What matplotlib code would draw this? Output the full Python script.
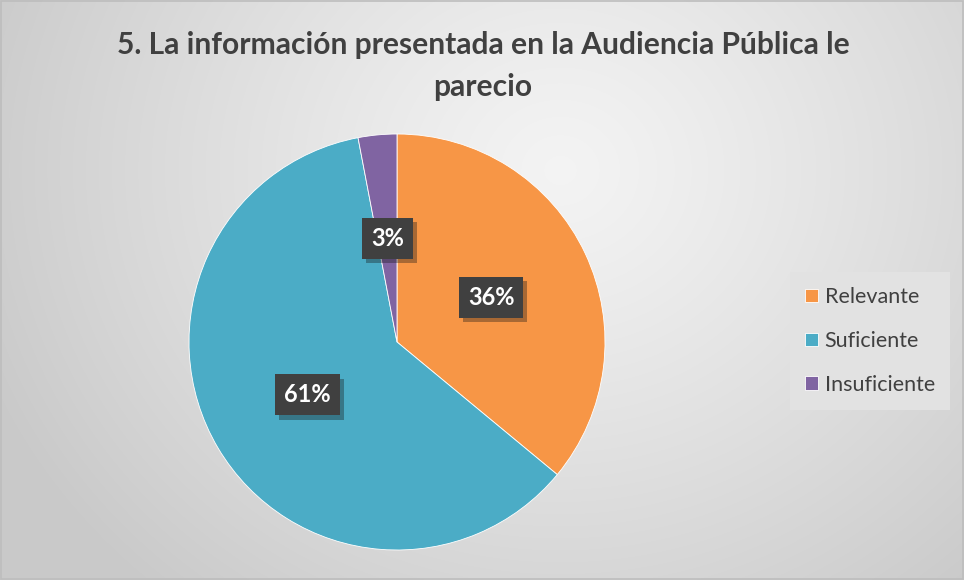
import numpy as np
import matplotlib
matplotlib.use("Agg")
import matplotlib.pyplot as plt
import matplotlib.patheffects as pe
from matplotlib.patches import Rectangle

title = "5. La información presentada en la Audiencia Pública le\nparecio"
categories = ["Relevante", "Suficiente", "Insuficiente"]
values = [36, 61, 3]
colors = ["#F79646", "#4BACC6", "#8064A2"]

W, H = 964, 580
fig = plt.figure(figsize=(W / 100, H / 100), dpi=100)

# background radial gradient
bg = fig.add_axes([0, 0, 1, 1])
yy, xx = np.mgrid[0:H, 0:W]
d = np.sqrt(((xx - 560) / 1.0) ** 2 + ((yy - 170) / 0.9) ** 2)
t = np.clip(d / 620, 0, 1)
c0, c1 = 0.955, 0.79
img = c0 + (c1 - c0) * t ** 1.2
bg.imshow(np.dstack([img, img, img]), extent=[0, W, H, 0], aspect="auto")
bg.add_patch(Rectangle((0.5, 0.5), W - 2, H - 2, fill=False, edgecolor="#bdbdbd", lw=1.2))
bg.set_xlim(0, W)
bg.set_ylim(H, 0)
bg.axis("off")

fig.text(483 / W, 1 - 66 / H, title, ha="center", va="center", fontsize=21.6,
         fontweight="bold", color="#404040", family="Lato", linespacing=1.6)

cx, cy, r = 397, 342, 208
ax = fig.add_axes([(cx - r) / W, 1 - (cy + r) / H, 2 * r / W, 2 * r / H])
wedges, texts, autotexts = ax.pie(
    values, colors=colors, startangle=90, counterclock=False,
    autopct="%d%%", pctdistance=0.5,
    wedgeprops=dict(edgecolor="white", linewidth=0.6),
    textprops=dict(color="white", fontsize=17, fontweight="bold", family="Lato"),
)
for a in autotexts:
    a.set_bbox(dict(boxstyle="square,pad=0.38", facecolor="#404040", edgecolor="none"))
    a.get_bbox_patch().set_path_effects([pe.SimplePatchShadow(offset=(3, -3), alpha=0.35), pe.Normal()])
ax.set_xlim(-1, 1)
ax.set_ylim(-1, 1)
ax.set_aspect("equal")

leg = fig.legend(wedges, categories, loc="center left",
                 bbox_to_anchor=(790 / W, 1 - 341 / H),
                 frameon=True, fancybox=False, framealpha=1,
                 prop=dict(family="Lato", size=15.5), labelcolor="#404040",
                 handlelength=0.58, handleheight=0.58, handletextpad=0.33,
                 labelspacing=1.1, borderpad=0.7, borderaxespad=0)
leg.get_frame().set_facecolor("#e2e2e2")
leg.get_frame().set_edgecolor("none")

fig.savefig("out.png", dpi=100)
